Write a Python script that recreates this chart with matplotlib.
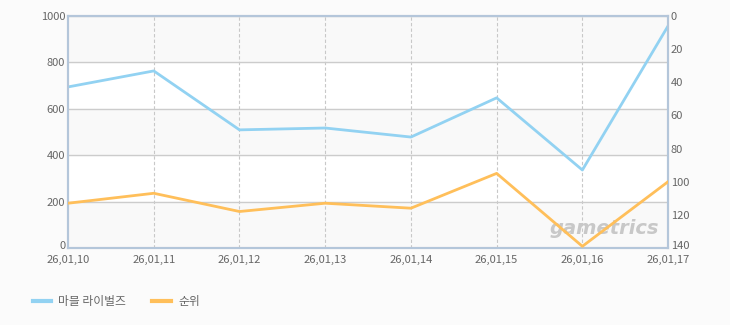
import matplotlib.pyplot as plt
from matplotlib.lines import Line2D
from matplotlib.transforms import ScaledTranslation

plt.rcParams['font.family'] = ['Noto Sans CJK KR', 'DejaVu Sans']

# Data
dates = ['26,01,10', '26,01,11', '26,01,12', '26,01,13',
         '26,01,14', '26,01,15', '26,01,16', '26,01,17']
marvel = [694, 763, 509, 517, 478, 647, 336, 957]
rank = [113, 107, 118, 113, 116, 95, 139, 100]

blue = '#92d2f2'
orange = '#ffbf5a'
txt = '#666666'

fig = plt.figure(figsize=(7.3, 3.25), dpi=100)
fig.patch.set_facecolor('#fbfbfb')
ax = fig.add_axes([0.0932, 0.237, 0.822, 0.714])
ax.set_facecolor('white')

x = list(range(len(dates)))

# alternating bands
for i, lo in enumerate(range(0, 1000, 200)):
    if i % 2 == 0:
        ax.axhspan(lo, lo + 200, color='#f9f9f9', zorder=0)

ax.set_xlim(0, len(dates) - 1)
ax.set_ylim(0, 1000)
ax.set_yticks(range(0, 1001, 200))
ax.set_xticks(x)
ax.set_xticklabels(dates)
ax.grid(True, axis='y', color='#cccccc', linewidth=1)
for xi in x[1:-1]:
    ax.axvline(xi, color='#c8c8c8', linewidth=0.8, linestyle=(0, (3, 2)), zorder=1)

ax.plot(x, marvel, color=blue, linewidth=2, zorder=3)

ax2 = ax.twinx()
ax2.set_ylim(140, 0)
ax2.set_yticks(range(0, 141, 20))
ax2.plot(x, rank, color=orange, linewidth=2, zorder=3)

for a in (ax, ax2):
    a.tick_params(length=0, labelsize=8, colors=txt, pad=2)
    for s in a.spines.values():
        s.set_color('#b4c6da')
        s.set_linewidth(1.5)
ax.tick_params(axis='x', pad=5)
# lift the bottom y labels by a couple of pixels so they clear the dates
lift = ScaledTranslation(0, 3 / 100, fig.dpi_scale_trans)
for lab in (ax.get_yticklabels()[0], ax2.get_yticklabels()[-1]):
    lab.set_transform(lab.get_transform() + lift)

ax.text(0.985, 0.085, 'gametrics', transform=ax.transAxes, ha='right',
        va='center', fontsize=14, style='italic', fontweight='bold',
        color='#c8c8c8', family='DejaVu Sans', zorder=2)

handles = [Line2D([], [], color=blue, linewidth=3),
           Line2D([], [], color=orange, linewidth=3)]
fig.legend(handles, ['마블 라이벌즈', '순위'], loc='lower left',
           bbox_to_anchor=(0.03, 0.02), ncol=2, frameon=False,
           fontsize=8.5, labelcolor=txt, handlelength=1.6,
           columnspacing=2.2, handletextpad=0.6)

fig.savefig('out.png', dpi=100, facecolor=fig.get_facecolor())
